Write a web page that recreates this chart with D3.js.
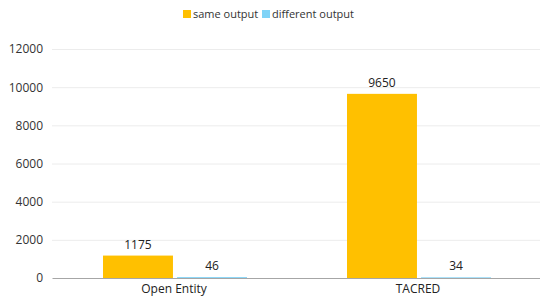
<!DOCTYPE html>
<html><head><meta charset="utf-8">
<script src="https://cdn.jsdelivr.net/npm/d3@7"></script>
<style>body{margin:0;background:#fff}svg{display:block}text{font-family:"Open Sans","Noto Sans",sans-serif}</style>
</head><body><svg id="c" width="540" height="298"></svg>
<script>
const categories = ["Open Entity", "TACRED"];
const seriesNames = ["same output", "different output"];
const sameOutput = [1175, 9650];
const differentOutput = [46, 34];
const yTicks = [0, 2000, 4000, 6000, 8000, 10000, 12000];
const colors = ["#FFC000", "#7FD3F7"];

const svg = d3.select("#c");
const m = {l: 52, r: 0, t: 49, b: 20};
const W = 540, H = 298;
const x = d3.scaleBand().domain(categories).range([m.l, W - m.r]).paddingInner(0).paddingOuter(0);
const y = d3.scaleLinear().domain([0, 12000]).range([278, 49]);
const inner = d3.scaleBand().domain(seriesNames).range([51, 195]).paddingInner(0.055);

// gridlines
svg.append("g").selectAll("line").data(yTicks.slice(1)).join("line")
  .attr("x1", m.l).attr("x2", W).attr("y1", d => y(d) + 0.5).attr("y2", d => y(d) + 0.5)
  .attr("stroke", "#ececec").attr("stroke-width", 1);

// y axis
const ya = svg.append("g").attr("transform", `translate(${m.l},0)`)
  .call(d3.axisLeft(y).tickValues(yTicks).tickSize(0).tickPadding(9).tickFormat(d3.format("d")));
ya.select(".domain").remove();
ya.selectAll("text").attr("font-size", 12).attr("fill", "#333");

const data = categories.map((c, i) => ({c, vals: [sameOutput[i], differentOutput[i]]}));
const g = svg.append("g");
data.forEach(d => {
  d.vals.forEach((v, j) => {
    const bx = x(d.c) + inner(seriesNames[j]);
    g.append("rect").attr("x", bx).attr("width", inner.bandwidth())
      .attr("y", y(v)).attr("height", y(0) - y(v)).attr("fill", colors[j]);
    g.append("text").attr("x", bx + inner.bandwidth() / 2).attr("y", y(v) - 7)
      .attr("text-anchor", "middle").attr("font-size", 12).attr("fill", "#222").text(v);
  });
});

// x axis
const xa = svg.append("g").attr("transform", `translate(0,${y(0)})`)
  .call(d3.axisBottom(x).tickSize(0).tickPadding(6));
xa.select(".domain").attr("stroke", "#a6a6a6");
xa.selectAll("text").attr("font-size", 12).attr("fill", "#222");

// legend
const lg = svg.append("g");
const legX = [183, 262];
seriesNames.forEach((s, i) => {
  lg.append("rect").attr("x", legX[i]).attr("y", 10).attr("width", 8).attr("height", 8).attr("fill", colors[i]);
  lg.append("text").attr("x", legX[i] + 10).attr("y", 18).attr("font-size", 11).attr("fill", "#333").text(s);
});
</script></body></html>
